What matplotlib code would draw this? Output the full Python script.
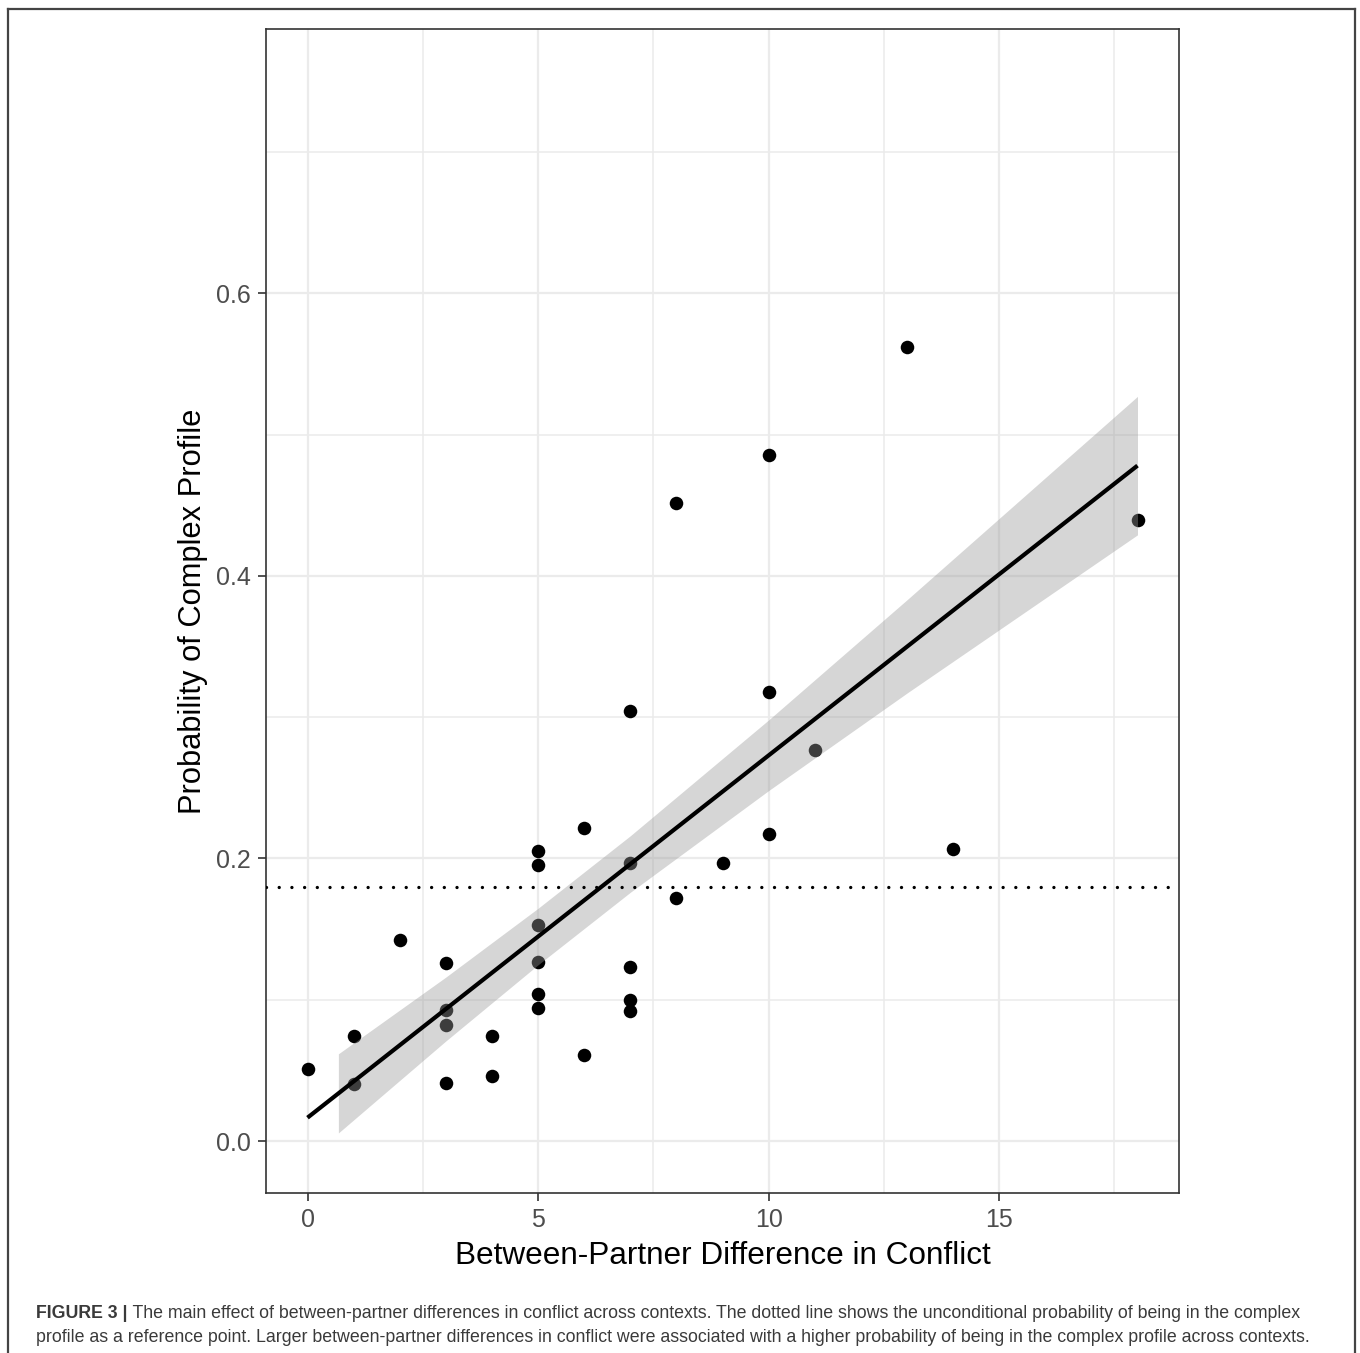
import numpy as np
import matplotlib.pyplot as plt
from matplotlib.lines import Line2D

plt.rcParams['font.family'] = ['Liberation Sans', 'DejaVu Sans']

# Data
diff_conflict = [0, 1, 1, 2, 3, 3, 3, 3, 4, 4,
                 5, 5, 5, 5, 5, 5, 6, 6, 7, 7,
                 7, 7, 7, 8, 8, 9, 10, 10, 10, 11,
                 13, 14, 18]
prob_complex = [0.051, 0.074, 0.040, 0.142, 0.126, 0.093, 0.082, 0.041, 0.074, 0.046,
                0.205, 0.195, 0.153, 0.127, 0.104, 0.094, 0.2215, 0.061, 0.3045, 0.197,
                0.123, 0.0998, 0.0922, 0.4517, 0.172, 0.197, 0.4855, 0.3175, 0.217, 0.277,
                0.562, 0.2066, 0.4395]

# fitted line (end points) and its confidence band
fit_x = [0, 18]
fit_y = [0.0165, 0.478]
band_x = [0.67, 3, 5, 7, 10, 13, 15.5, 18]
band_lo = [0.0057, 0.0708, 0.1247, 0.176, 0.248, 0.317, 0.373, 0.429]
band_hi = [0.0617, 0.116, 0.1647, 0.216, 0.298, 0.383, 0.455, 0.527]

# unconditional probability (reference line)
base_prob = 0.18

x_ticks = [0, 5, 10, 15]
y_ticks = [0.0, 0.2, 0.4, 0.6]

caption_bold = 'FIGURE 3 |'
caption_1 = (' The main effect of between-partner differences in conflict across contexts. '
             'The dotted line shows the unconditional probability of being in the complex')
caption_2 = ('profile as a reference point. Larger between-partner differences in conflict '
             'were associated with a higher probability of being in the complex profile across contexts.')

W, H = 1360, 1353
fig = plt.figure(figsize=(W / 100, H / 100), dpi=100)
ax = fig.add_axes([266 / W, 160 / H, (1179 - 266) / W, (1324 - 160) / H])

# points, then the semi-transparent band on top (makes covered points grey)
ax.scatter(diff_conflict, prob_complex, s=95, color='black', linewidths=0, zorder=2)
ax.fill_between(band_x, band_lo, band_hi, color='#999999', alpha=0.4, linewidth=0, zorder=3)
ax.plot(fit_x, fit_y, color='black', linewidth=3.0, solid_capstyle='butt', zorder=4)
ax.axhline(base_prob, color='black', linewidth=2.4, linestyle=(0, (0.01, 3.8)),
           dash_capstyle='round', zorder=4)

ax.set_xlim(-0.9, 18.9)
ax.set_ylim(-0.0368, 0.787)
ax.set_xticks(x_ticks)
ax.set_yticks(y_ticks)
ax.set_xticks([2.5, 7.5, 12.5, 17.5], minor=True)
ax.set_yticks([0.1, 0.3, 0.5, 0.7], minor=True)
ax.set_yticklabels(['%.1f' % v for v in y_ticks])

ax.grid(which='major', color='#EBEBEB', linewidth=1.6)
ax.grid(which='minor', color='#EBEBEB', linewidth=1.1)
ax.set_axisbelow(True)

for sp in ax.spines.values():
    sp.set_color('#333333')
    sp.set_linewidth(1.2)
ax.tick_params(which='major', length=6, width=1.2, color='#333333',
               labelsize=18, labelcolor='#4D4D4D', pad=5)
ax.tick_params(which='minor', length=0)

ax.set_xlabel('Between-Partner Difference in Conflict', fontsize=22.7, labelpad=6)
ax.set_ylabel('Probability of Complex Profile', fontsize=22.2, labelpad=6)

# outer frame (open at the bottom)
frame_col = '#444444'
fig.add_artist(Line2D([8 / W, 8 / W], [0, 1 - 9 / H], color=frame_col, linewidth=1.6))
fig.add_artist(Line2D([8 / W, 1355 / W], [1 - 9 / H, 1 - 9 / H], color=frame_col, linewidth=1.6))
fig.add_artist(Line2D([1355 / W, 1355 / W], [0, 1 - 9 / H], color=frame_col, linewidth=1.6))

# caption
cap_col = '#3a3a3a'
cap_size = 12.75
t1 = fig.text(36 / W, 1 - 1318 / H, caption_bold, fontsize=cap_size, fontweight='bold',
              color=cap_col, va='baseline')
ax.annotate(caption_1, xy=(1, 0), xycoords=t1, fontsize=cap_size, color=cap_col,
            va='bottom', ha='left', annotation_clip=False)
fig.text(36 / W, 1 - 1342 / H, caption_2, fontsize=cap_size, color=cap_col, va='baseline')

fig.savefig('out.png', dpi=100)
